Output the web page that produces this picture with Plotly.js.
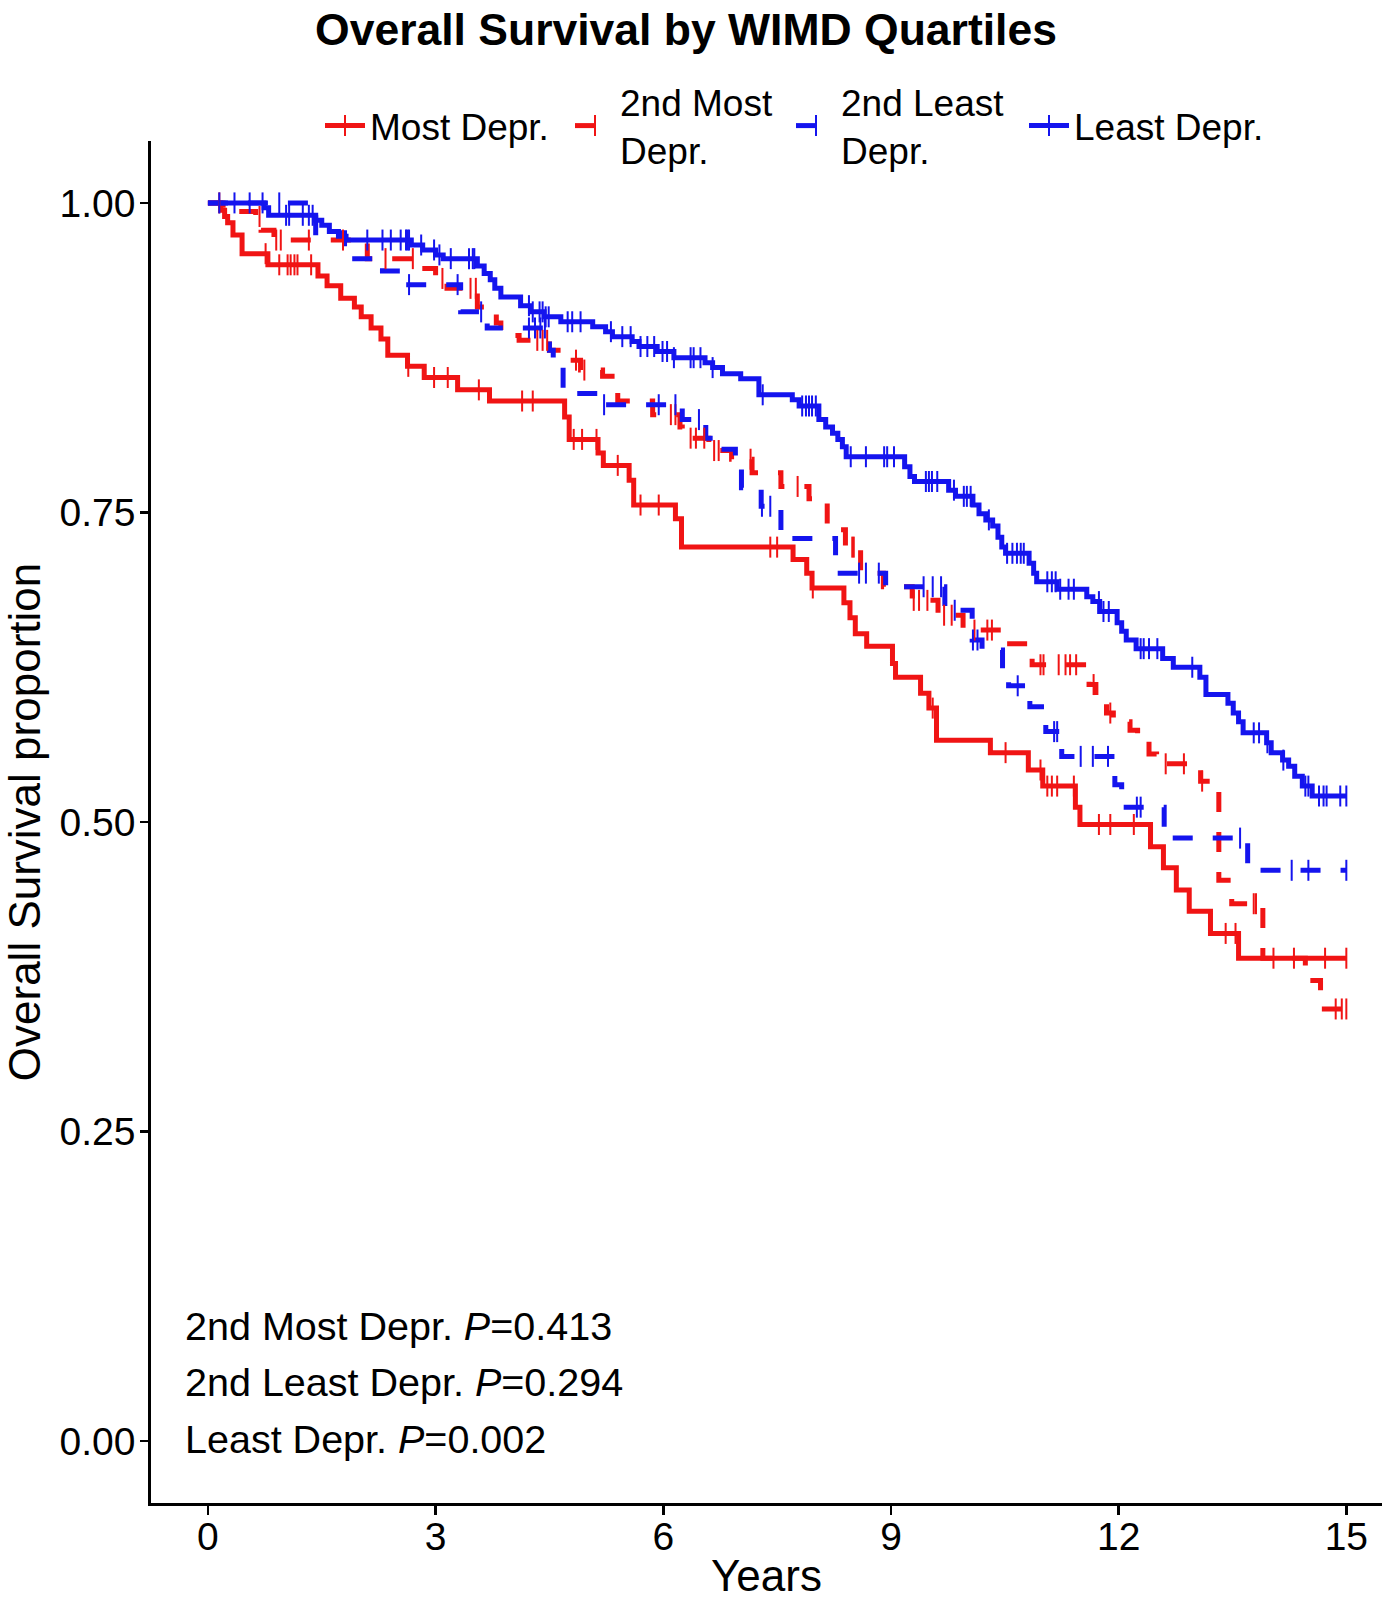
<!DOCTYPE html>
<html>
<head>
<meta charset="utf-8">
<script src="https://cdn.plot.ly/plotly-3.0.1.min.js"></script>
<style>
html, body { margin: 0; padding: 0; background: #ffffff; overflow: hidden; }
#chart { width: 1382px; height: 1611px; }
</style>
</head>
<body>
<div id="chart"></div>
<script>
// ---------------- data ----------------
const groupNames = ['Most Depr.', '2nd Most<br>Depr.', '2nd Least<br>Depr.', 'Least Depr.'];
const followUpEnd = 15;

const mostTimes = [0.17,0.22,0.26,0.33,0.45,0.79,1.45,1.57,1.75,1.93,2.02,2.15,2.28,2.37,2.63,2.85,3.29,3.71,4.70,4.76,5.14,5.21,5.55,5.61,6.16,6.24,7.71,7.89,7.96,8.38,8.46,8.53,8.68,9.02,9.06,9.39,9.50,9.60,10.31,10.81,11.00,11.43,11.49,12.42,12.59,12.76,12.93,13.21,13.58];
const mostSurv = [0.994,0.989,0.984,0.974,0.959,0.950,0.941,0.933,0.923,0.916,0.908,0.899,0.890,0.877,0.868,0.859,0.849,0.840,0.827,0.809,0.798,0.788,0.776,0.756,0.745,0.722,0.712,0.701,0.689,0.677,0.665,0.652,0.642,0.628,0.617,0.604,0.592,0.566,0.556,0.542,0.529,0.512,0.498,0.480,0.463,0.445,0.428,0.410,0.390];
const mostCensor = [0.76,0.94,1.05,1.09,1.14,1.18,1.36,2.64,2.98,3.16,3.57,4.14,4.28,4.82,4.93,5.12,5.40,5.70,5.94,7.41,7.50,7.97,9.55,10.51,10.97,11.06,11.12,11.19,11.41,11.74,11.89,12.20,13.41,13.54,14.04,14.31,14.72,15.0];

const secondMostTimes = [0.20,0.63,0.70,0.87,2.10,2.80,3.00,3.15,3.55,3.80,3.86,4.10,4.50,4.65,4.91,5.20,5.37,5.40,5.86,6.22,6.25,6.60,6.90,7.17,7.55,7.92,8.16,8.30,8.40,8.60,8.90,9.28,9.62,9.95,10.53,10.86,11.61,11.70,11.84,11.93,12.15,12.25,12.40,12.50,13.08,13.32,13.49,13.90,14.46,14.66];
const secondMostSurv = [0.993,0.989,0.978,0.970,0.955,0.947,0.939,0.931,0.916,0.903,0.893,0.889,0.881,0.873,0.865,0.860,0.852,0.840,0.829,0.819,0.810,0.800,0.793,0.782,0.771,0.761,0.743,0.736,0.722,0.701,0.690,0.679,0.667,0.655,0.644,0.627,0.611,0.597,0.588,0.581,0.574,0.565,0.555,0.547,0.533,0.453,0.434,0.390,0.372,0.349];
const secondMostCensor = [0.15,0.68,0.90,0.96,1.33,1.78,2.34,2.70,3.09,3.46,3.53,4.34,4.41,4.47,4.85,4.96,6.10,6.16,6.36,6.43,6.54,6.67,6.73,7.15,7.77,8.49,8.51,9.30,9.37,9.48,9.70,9.80,10.10,10.27,10.33,10.97,11.01,11.21,11.30,11.36,11.44,11.67,11.89,12.62,12.86,13.10,13.78,13.81,14.86,14.94,15.0];

const secondLeastTimes = [1.42,1.80,2.30,2.60,3.33,3.68,4.50,4.55,4.68,5.18,6.25,6.56,6.71,6.95,7.03,7.29,7.55,8.27,8.93,9.71,10.07,10.20,10.47,10.55,10.83,11.04,11.25,11.95,12.04,12.60,13.70];
const secondLeastSurv = [0.976,0.955,0.945,0.934,0.912,0.899,0.881,0.873,0.846,0.837,0.825,0.810,0.801,0.787,0.770,0.755,0.729,0.701,0.690,0.671,0.647,0.639,0.624,0.610,0.593,0.573,0.553,0.530,0.512,0.487,0.461];
const secondLeastCensor = [0.94,2.65,3.29,3.60,4.23,4.31,4.38,4.44,5.22,5.94,6.16,6.47,7.30,7.41,8.58,8.67,8.84,9.43,9.55,9.66,9.84,10.08,10.14,10.67,11.15,11.19,11.50,11.66,11.86,12.24,12.29,13.60,14.28,14.50,15.0];

const leastTimes = [0.74,0.80,1.42,1.50,1.60,1.72,1.82,2.68,2.83,3.00,3.10,3.55,3.64,3.72,3.78,3.86,4.12,4.25,4.43,4.65,5.07,5.24,5.33,5.59,5.68,5.92,6.14,6.55,6.65,6.78,7.02,7.26,7.70,7.79,8.05,8.14,8.23,8.30,8.36,8.41,9.18,9.25,9.31,9.76,9.85,10.08,10.16,10.25,10.34,10.41,10.46,10.51,10.82,10.88,10.92,11.19,11.58,11.66,11.75,11.98,12.04,12.10,12.23,12.58,12.72,13.07,13.15,13.44,13.51,13.58,13.64,13.95,14.01,14.16,14.24,14.32,14.42,14.55];
const leastSurv = [0.996,0.990,0.986,0.982,0.977,0.973,0.970,0.966,0.962,0.958,0.955,0.949,0.943,0.938,0.931,0.924,0.917,0.912,0.908,0.904,0.900,0.896,0.892,0.888,0.884,0.880,0.875,0.871,0.867,0.862,0.858,0.845,0.841,0.836,0.825,0.819,0.814,0.809,0.803,0.795,0.787,0.779,0.775,0.768,0.763,0.756,0.749,0.744,0.739,0.730,0.722,0.717,0.709,0.701,0.694,0.688,0.682,0.678,0.670,0.661,0.654,0.647,0.640,0.632,0.625,0.617,0.603,0.596,0.588,0.581,0.572,0.564,0.556,0.550,0.545,0.537,0.529,0.521];
const leastCensor = [0.15,0.35,0.55,0.72,1.03,1.07,1.25,1.33,1.38,2.10,2.30,2.41,2.54,2.61,2.63,2.65,2.81,2.98,3.05,3.20,3.44,3.49,3.51,4.23,4.28,4.37,4.41,4.45,4.49,4.74,4.80,4.91,5.31,5.46,5.57,5.70,5.79,5.88,5.99,6.05,6.14,6.36,6.40,6.49,6.65,7.31,7.83,7.88,7.92,7.96,8.01,8.47,8.67,8.91,8.95,9.04,9.46,9.50,9.54,9.61,9.83,9.96,10.00,10.05,10.29,10.53,10.60,10.66,10.71,10.75,11.06,11.12,11.17,11.23,11.34,11.41,11.74,11.80,11.87,12.29,12.33,12.40,12.51,12.97,13.78,13.85,13.96,14.17,14.46,14.50,14.64,14.70,14.74,14.92,15.0];

const xTickVals = [0, 3, 6, 9, 12, 15];
const yTickVals = [0, 0.25, 0.5, 0.75, 1];
const pLabels = ['2nd Most Depr.', '2nd Least Depr.', 'Least Depr.'];
const pValues = ['0.413', '0.294', '0.002'];

// ---------------- styling ----------------
const FONT = '"Liberation Sans", Arial, Helvetica, sans-serif';
const RED = '#F01414';
const BLUE = '#1414EE';
const groups = [
  {name: groupNames[0], times: mostTimes, surv: mostSurv, cens: mostCensor, color: RED, dash: 'solid', legend: 'legend'},
  {name: groupNames[1], times: secondMostTimes, surv: secondMostSurv, cens: secondMostCensor, color: RED, dash: '20px,20px', legend: 'legend2'},
  {name: groupNames[2], times: secondLeastTimes, surv: secondLeastSurv, cens: secondLeastCensor, color: BLUE, dash: '20px,20px', legend: 'legend3'},
  {name: groupNames[3], times: leastTimes, surv: leastSurv, cens: leastCensor, color: BLUE, dash: 'solid', legend: 'legend4'}
];

function survAt(times, surv, t) {
  let s = 1;
  for (let i = 0; i < times.length; i++) {
    if (times[i] <= t) s = surv[i]; else break;
  }
  return s;
}

const traces = [];
groups.forEach(g => {
  traces.push({
    type: 'scatter', mode: 'lines',
    x: [0].concat(g.times, [followUpEnd]),
    y: [1].concat(g.surv, [g.surv[g.surv.length - 1]]),
    line: {shape: 'hv', color: g.color, width: 5, dash: g.dash},
    showlegend: false, hoverinfo: 'skip'
  });
});
groups.forEach(g => {
  traces.push({
    type: 'scatter', mode: 'markers',
    x: g.cens,
    y: g.cens.map(t => survAt(g.times, g.surv, t)),
    marker: {symbol: 'line-ns', size: 15, color: g.color, line: {color: g.color, width: 2}},
    showlegend: false, hoverinfo: 'skip'
  });
});
groups.forEach(g => {
  traces.push({
    type: 'scatter', mode: 'lines+markers',
    x: [null], y: [null],
    name: g.name, legend: g.legend,
    line: {color: g.color, width: 5, dash: g.dash},
    marker: {symbol: 'line-ns', size: 15, color: g.color, line: {color: g.color, width: 2}},
    showlegend: true, hoverinfo: 'skip'
  });
});

// plot area in pixels: left 151, right 1382, top 141, bottom 1503
const PL = 151, PW = 1231, PB = 1503, PH = 1362;
const textStarts = [370, 620, 841, 1074];
function legendAt(px) {
  return {
    x: (px - 50 - PL) / PW, xref: 'paper', xanchor: 'left',
    y: (PB - 126) / PH, yref: 'paper', yanchor: 'middle',
    orientation: 'h', itemwidth: 40,
    font: {family: FONT, size: 37, color: '#000'},
    bgcolor: 'rgba(0,0,0,0)', borderwidth: 0
  };
}

const annotations = pLabels.map((lab, i) => ({
  text: lab + ' <i>P</i>=' + pValues[i],
  xref: 'x', yref: 'y', x: -0.33, y: 0.093 - i * 0.0455,
  xanchor: 'left', yanchor: 'middle', showarrow: false,
  font: {family: FONT, size: 39.5, color: '#000'}
}));

const layout = {
  width: 1382, height: 1611,
  margin: {l: PL, r: 0, t: 141, b: 108},
  paper_bgcolor: '#fff', plot_bgcolor: '#fff',
  font: {family: FONT, color: '#000'},
  title: {
    text: 'Overall Survival by WIMD Quartiles',
    font: {family: FONT, size: 44.5, weight: 'bold', color: '#000'},
    x: 686 / 1382, xref: 'container', xanchor: 'center',
    y: 1 - 29 / 1611, yref: 'container', yanchor: 'middle'
  },
  xaxis: {
    range: [-0.75, 15.47], tickvals: xTickVals, ticktext: xTickVals.map(String),
    ticks: 'outside', ticklen: 9, tickwidth: 2.5, tickcolor: '#000',
    ticklabelstandoff: -12,
    showline: true, linecolor: '#000', linewidth: 2.7,
    showgrid: false, zeroline: false,
    tickfont: {family: FONT, size: 39, color: '#000'},
    title: {text: 'Years', font: {family: FONT, size: 44, color: '#000'}, standoff: 4}
  },
  yaxis: {
    range: [-0.05, 1.05], tickvals: yTickVals, tickformat: '.2f',
    ticks: 'outside', ticklen: 8, tickwidth: 2.5, tickcolor: '#000',
    ticklabelstandoff: -3,
    showline: true, linecolor: '#000', linewidth: 2.7,
    showgrid: false, zeroline: false,
    tickfont: {family: FONT, size: 39, color: '#000'},
    title: {text: 'Overall Survival proportion', font: {family: FONT, size: 44, color: '#000'}, standoff: 14}
  },
  legend: legendAt(textStarts[0]),
  legend2: legendAt(textStarts[1]),
  legend3: legendAt(textStarts[2]),
  legend4: legendAt(textStarts[3]),
  annotations: annotations
};

Plotly.newPlot('chart', traces, layout, {displayModeBar: false, staticPlot: true});
</script>
</body>
</html>
